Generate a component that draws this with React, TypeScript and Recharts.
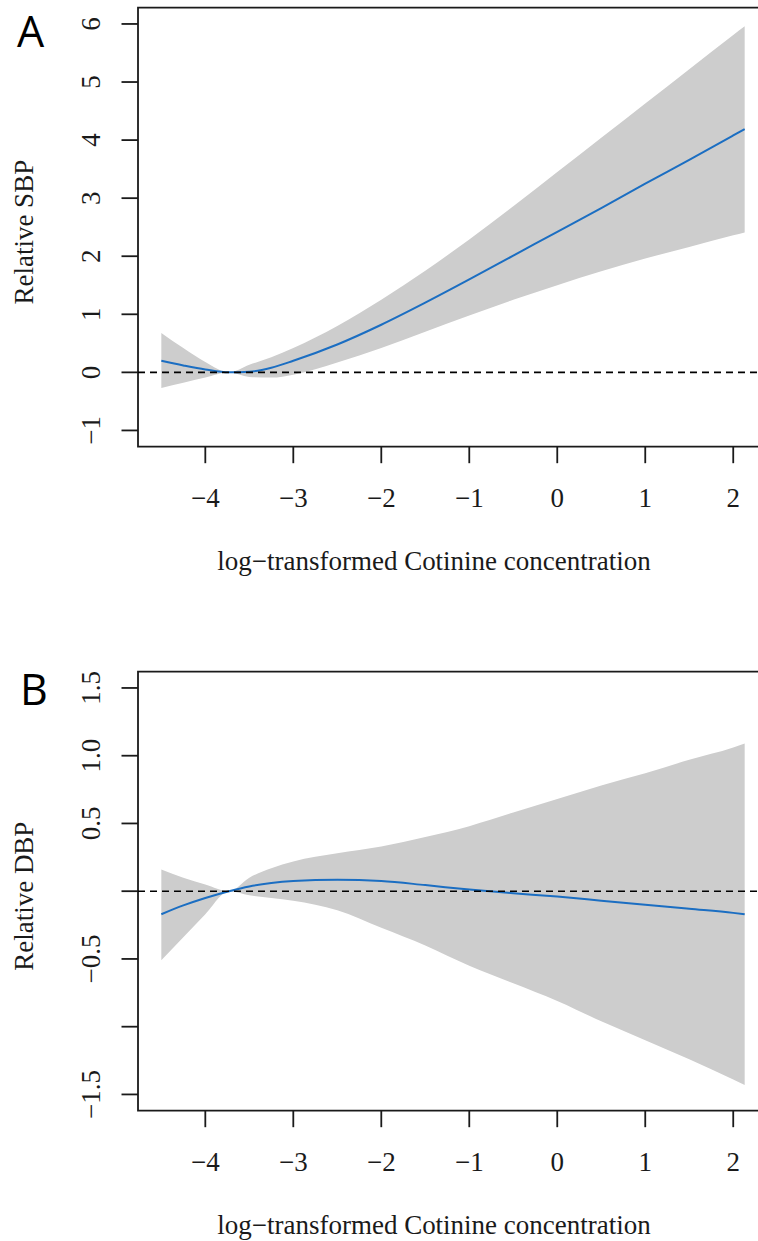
import React from 'react';
import { ComposedChart, Area, Line, XAxis, YAxis, ReferenceLine, ReferenceArea } from 'recharts';

const xValues = [-4.5, -4.25, -4.0, -3.73, -3.5, -3.25, -3.0, -2.5, -2.0, -1.5, -1.0, -0.5, 0, 0.5, 1.0, 1.5, 2.0, 2.13];

const sbpFit = [0.2, 0.12, 0.05, 0.0, 0.01, 0.08, 0.2, 0.48, 0.82, 1.2, 1.6, 2.01, 2.42, 2.83, 3.25, 3.66, 4.08, 4.19];
const sbpUpper = [0.68, 0.42, 0.18, 0.0, 0.13, 0.26, 0.42, 0.8, 1.25, 1.75, 2.29, 2.86, 3.45, 4.04, 4.63, 5.22, 5.81, 5.96];
const sbpLower = [-0.27, -0.18, -0.09, 0.0, -0.08, -0.09, -0.04, 0.17, 0.42, 0.7, 0.98, 1.25, 1.5, 1.74, 1.96, 2.16, 2.36, 2.41];

const dbpFit = [-0.17, -0.105, -0.05, 0.0, 0.035, 0.06, 0.075, 0.085, 0.075, 0.045, 0.012, -0.015, -0.04, -0.07, -0.1, -0.13, -0.16, -0.17];
const dbpUpper = [0.16, 0.1, 0.05, 0.0, 0.1, 0.17, 0.22, 0.28, 0.33, 0.4, 0.48, 0.58, 0.68, 0.78, 0.87, 0.97, 1.06, 1.09];
const dbpLower = [-0.51, -0.34, -0.17, 0.0, -0.03, -0.05, -0.07, -0.14, -0.27, -0.4, -0.55, -0.68, -0.81, -0.96, -1.1, -1.24, -1.39, -1.43];

const xTicks = [-4, -3, -2, -1, 0, 1, 2];
const sbpTicks = [-1, 0, 1, 2, 3, 4, 5, 6];
const dbpTicks = [-1.5, -1.0, -0.5, 0, 0.5, 1.0, 1.5];
const dbpShownLabels = [-1.5, -0.5, 0.5, 1.0, 1.5];

const xLabel = 'log\u2212transformed Cotinine concentration';
const sbpLabel = 'Relative SBP';
const dbpLabel = 'Relative DBP';

const xDomain: [number, number] = [-4.765, 2.395];
const sbpDomain: [number, number] = [-1.28, 6.28];
const dbpDomain: [number, number] = [-1.62, 1.62];

const sbpData = xValues.map((x, i) => ({ x, fit: sbpFit[i], band: [sbpLower[i], sbpUpper[i]] }));
const dbpData = xValues.map((x, i) => ({ x, fit: dbpFit[i], band: [dbpLower[i], dbpUpper[i]] }));

const SERIF = '"Liberation Serif", "DejaVu Serif", serif';
const FS = 27;
const INK = '#1a1a1a';

const minus = (s: string) => s.replace('-', '\u2212');

const XTick = (props: any) => {
  const { x, y, payload } = props;
  return (
    <text x={x} y={y + 43.5} textAnchor="middle" style={{ fontFamily: SERIF }} fontSize={FS} fill={INK}>
      {minus(String(payload.value))}
    </text>
  );
};

const makeYTick = (fmt: (v: number) => string) => (props: any) => {
  const { x, y, payload } = props;
  const bx = x - 21.5;
  return (
    <text x={bx} y={y} transform={`rotate(-90, ${bx}, ${y})`} textAnchor="middle" style={{ fontFamily: SERIF }} fontSize={FS} fill={INK}>
      {fmt(payload.value)}
    </text>
  );
};

const sbpFmt = (v: number) => minus(String(v));
const dbpFmt = (v: number) => (dbpShownLabels.includes(v) ? minus(v.toFixed(1)) : '');

const PLOT_TOP = 7.7;
const PLOT_H = 439;
const XAXIS_H = 140;
const YAXIS_W = 138;
const PLOT_W = 630;

function Panel(props: {
  data: any[];
  yDomain: [number, number];
  yTicks: number[];
  fmt: (v: number) => string;
  yLabel: string;
  top: number;
}) {
  const { data, yDomain, yTicks, fmt, yLabel, top } = props;
  const YTick = makeYTick(fmt);
  return (
    <div style={{ position: 'absolute', left: 0, top }}>
      <ComposedChart
        width={YAXIS_W + PLOT_W}
        height={PLOT_TOP + PLOT_H + XAXIS_H}
        data={data}
        margin={{ top: PLOT_TOP, right: 0, bottom: 0, left: 0 }}
      >
        <XAxis
          type="number"
          dataKey="x"
          domain={xDomain}
          ticks={xTicks}
          interval={0}
          allowDataOverflow
          axisLine={false}
          tickSize={16.5}
          tickMargin={0}
          tickLine={{ stroke: INK, strokeWidth: 1.8 }}
          tick={<XTick />}
          height={XAXIS_H}
          label={{
            content: (p: any) => {
              const vb = p.viewBox || {};
              return (
                <text x={vb.x + 296} y={vb.y + 123.3} textAnchor="middle" style={{ fontFamily: SERIF }} fontSize={FS} fill={INK}>
                  {xLabel}
                </text>
              );
            },
          }}
        />
        <YAxis
          type="number"
          domain={yDomain}
          ticks={yTicks}
          interval={0}
          allowDataOverflow
          axisLine={false}
          width={YAXIS_W}
          tickSize={16.5}
          tickMargin={0}
          tickLine={{ stroke: INK, strokeWidth: 1.8 }}
          tick={<YTick />}
          label={{
            content: (p: any) => {
              const vb = p.viewBox || {};
              const cy = vb.y + vb.height / 2 + 5;
              return (
                <text x={33} y={cy} transform={`rotate(-90, 33, ${cy})`} textAnchor="middle" style={{ fontFamily: SERIF }} fontSize={FS} fill={INK}>
                  {yLabel}
                </text>
              );
            },
          }}
        />
        <Area
          dataKey="band"
          type="monotone"
          fill="#cdcdcd"
          fillOpacity={1}
          stroke="none"
          isAnimationActive={false}
          activeDot={false}
        />
        <Line
          dataKey="fit"
          type="monotone"
          stroke="#1b6ec2"
          strokeWidth={2}
          dot={false}
          activeDot={false}
          isAnimationActive={false}
        />
        <ReferenceLine y={0} stroke="#000" strokeWidth={1.6} strokeDasharray="7 5" />
        <ReferenceArea
          x1={xDomain[0]}
          x2={xDomain[1]}
          y1={yDomain[0]}
          y2={yDomain[1]}
          fill="none"
          fillOpacity={0}
          stroke={INK}
          strokeWidth={1.8}
          ifOverflow="visible"
        />
      </ComposedChart>
    </div>
  );
}

export default function App() {
  return (
    <div style={{ position: 'absolute', left: 0, top: 0, width: 758, height: 1241, overflow: 'hidden', background: '#fff' }}>
      <Panel data={sbpData} yDomain={sbpDomain} yTicks={sbpTicks} fmt={sbpFmt} yLabel={sbpLabel} top={0} />
      <Panel data={dbpData} yDomain={dbpDomain} yTicks={dbpTicks} fmt={dbpFmt} yLabel={dbpLabel} top={664.4} />
      <svg width={758} height={1241} style={{ position: 'absolute', left: 0, top: 0, pointerEvents: 'none' }}>
        <text x={17} y={47} style={{ fontFamily: '"Open Sans", "Noto Sans", sans-serif' }} fontSize={43} fill="#000">A</text>
        <text x={20} y={705} style={{ fontFamily: '"Open Sans", "Noto Sans", sans-serif' }} fontSize={43} fill="#000">B</text>
      </svg>
    </div>
  );
}
